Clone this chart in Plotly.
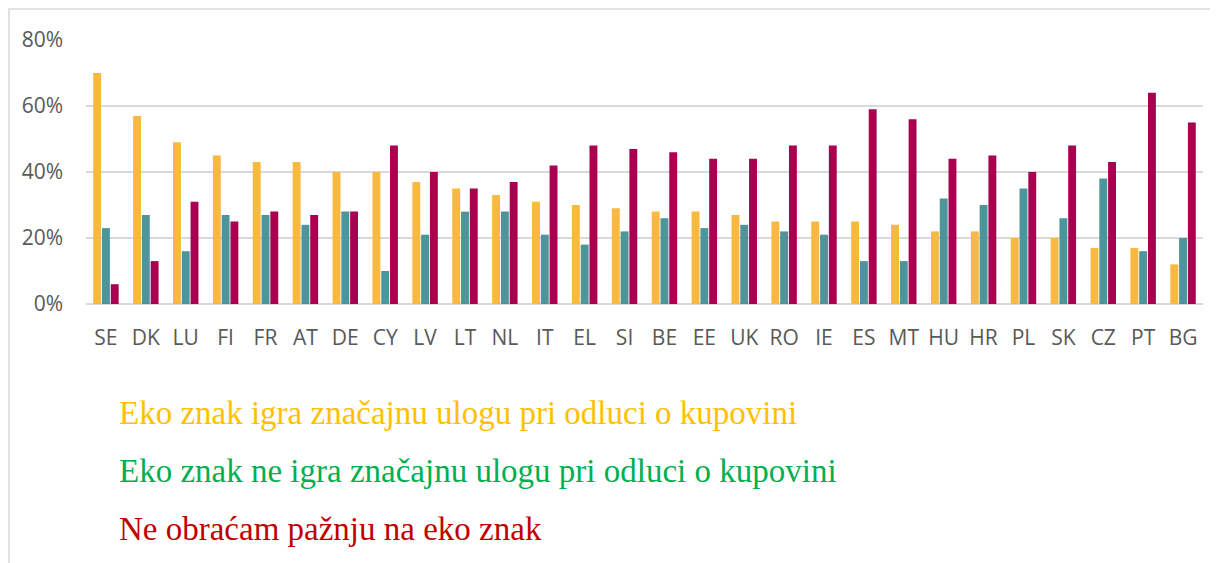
import plotly.graph_objects as go

countries = ["SE", "DK", "LU", "FI", "FR", "AT", "DE", "CY", "LV", "LT", "NL", "IT", "EL", "SI",
             "BE", "EE", "UK", "RO", "IE", "ES", "MT", "HU", "HR", "PL", "SK", "CZ", "PT", "BG"]
important = [70, 57, 49, 45, 43, 43, 40, 40, 37, 35, 33, 31, 30, 29,
             28, 28, 27, 25, 25, 25, 24, 22, 22, 20, 20, 17, 17, 12]
not_important = [23, 27, 16, 27, 27, 24, 28, 10, 21, 28, 28, 21, 18, 22,
                 26, 23, 24, 22, 21, 13, 13, 32, 30, 35, 26, 38, 16, 20]
no_attention = [6, 13, 31, 25, 28, 27, 28, 48, 40, 35, 37, 42, 48, 47,
                46, 44, 44, 48, 48, 59, 56, 44, 45, 40, 48, 43, 64, 55]
series_names = ["Eko znak igra značajnu ulogu pri odluci o kupovini",
                "Eko znak ne igra značajnu ulogu pri odluci o kupovini",
                "Ne obraćam pažnju na eko znak"]
y_ticks = [0, 20, 40, 60, 80]
y_tick_labels = [f"{v}%" for v in y_ticks]

bar_colors = ["#F9B840", "#4E959B", "#AA0050"]
text_colors = ["#FFC000", "#00B050", "#C00000"]

fig = go.Figure()
for name, vals, col in zip(series_names, [important, not_important, no_attention], bar_colors):
    fig.add_trace(go.Bar(x=countries, y=vals, name=name, marker_color=col,
                         marker_line_width=0, showlegend=False))

# page body has an 8px margin, so the figure is laid out in shifted coordinates
OFF = 8
W, H = 1218 - OFF, 563 - OFF
ml, mr, mt, mb = 86 - OFF, 15, 40 - OFF, 259
pw, ph = W - ml - mr, H - mt - mb

fig.update_layout(
    width=W, height=H,
    margin=dict(l=ml, r=mr, t=mt, b=mb),
    paper_bgcolor="white", plot_bgcolor="white",
    barmode="group", bargap=0.34, bargroupgap=0.1,
    font=dict(family="Open Sans, Liberation Sans, sans-serif", color="#595959", size=21),
    xaxis=dict(showgrid=False, showline=False, ticks="", ticklabelstandoff=19,
               tickfont=dict(size=21, color="#595959")),
    yaxis=dict(range=[0, 80], tickvals=y_ticks, ticktext=y_tick_labels, showgrid=True,
               gridcolor="#D9D9D9", gridwidth=1.5, zeroline=True, zerolinecolor="#D9D9D9",
               zerolinewidth=1.5, showline=False, ticks="", ticklabelstandoff=22,
               tickfont=dict(size=21, color="#595959")),
)

# frame lines (left and top)
x0 = (1 - ml) / pw
y1 = 1 + (mt - 1) / ph
x1 = (W + 5 - ml) / pw
y0 = -(H + 5 - (H - mb)) / ph
fig.add_shape(type="path", xref="paper", yref="paper",
              path=f"M {x0},{y0} L {x0},{y1} L {x1},{y1}",
              line=dict(color="#D9D9D9", width=1.5))

legend_y = [413 - OFF, 471 - OFF, 529 - OFF]
for name, col, yp in zip(series_names, text_colors, legend_y):
    fig.add_annotation(xref="paper", yref="paper",
                       x=(117 - OFF - ml) / pw, y=-(yp - (H - mb)) / ph,
                       xanchor="left", yanchor="middle", showarrow=False,
                       text=name, font=dict(family="Liberation Serif, Times New Roman, serif",
                                            size=33, color=col))

fig.write_html("out.html")
